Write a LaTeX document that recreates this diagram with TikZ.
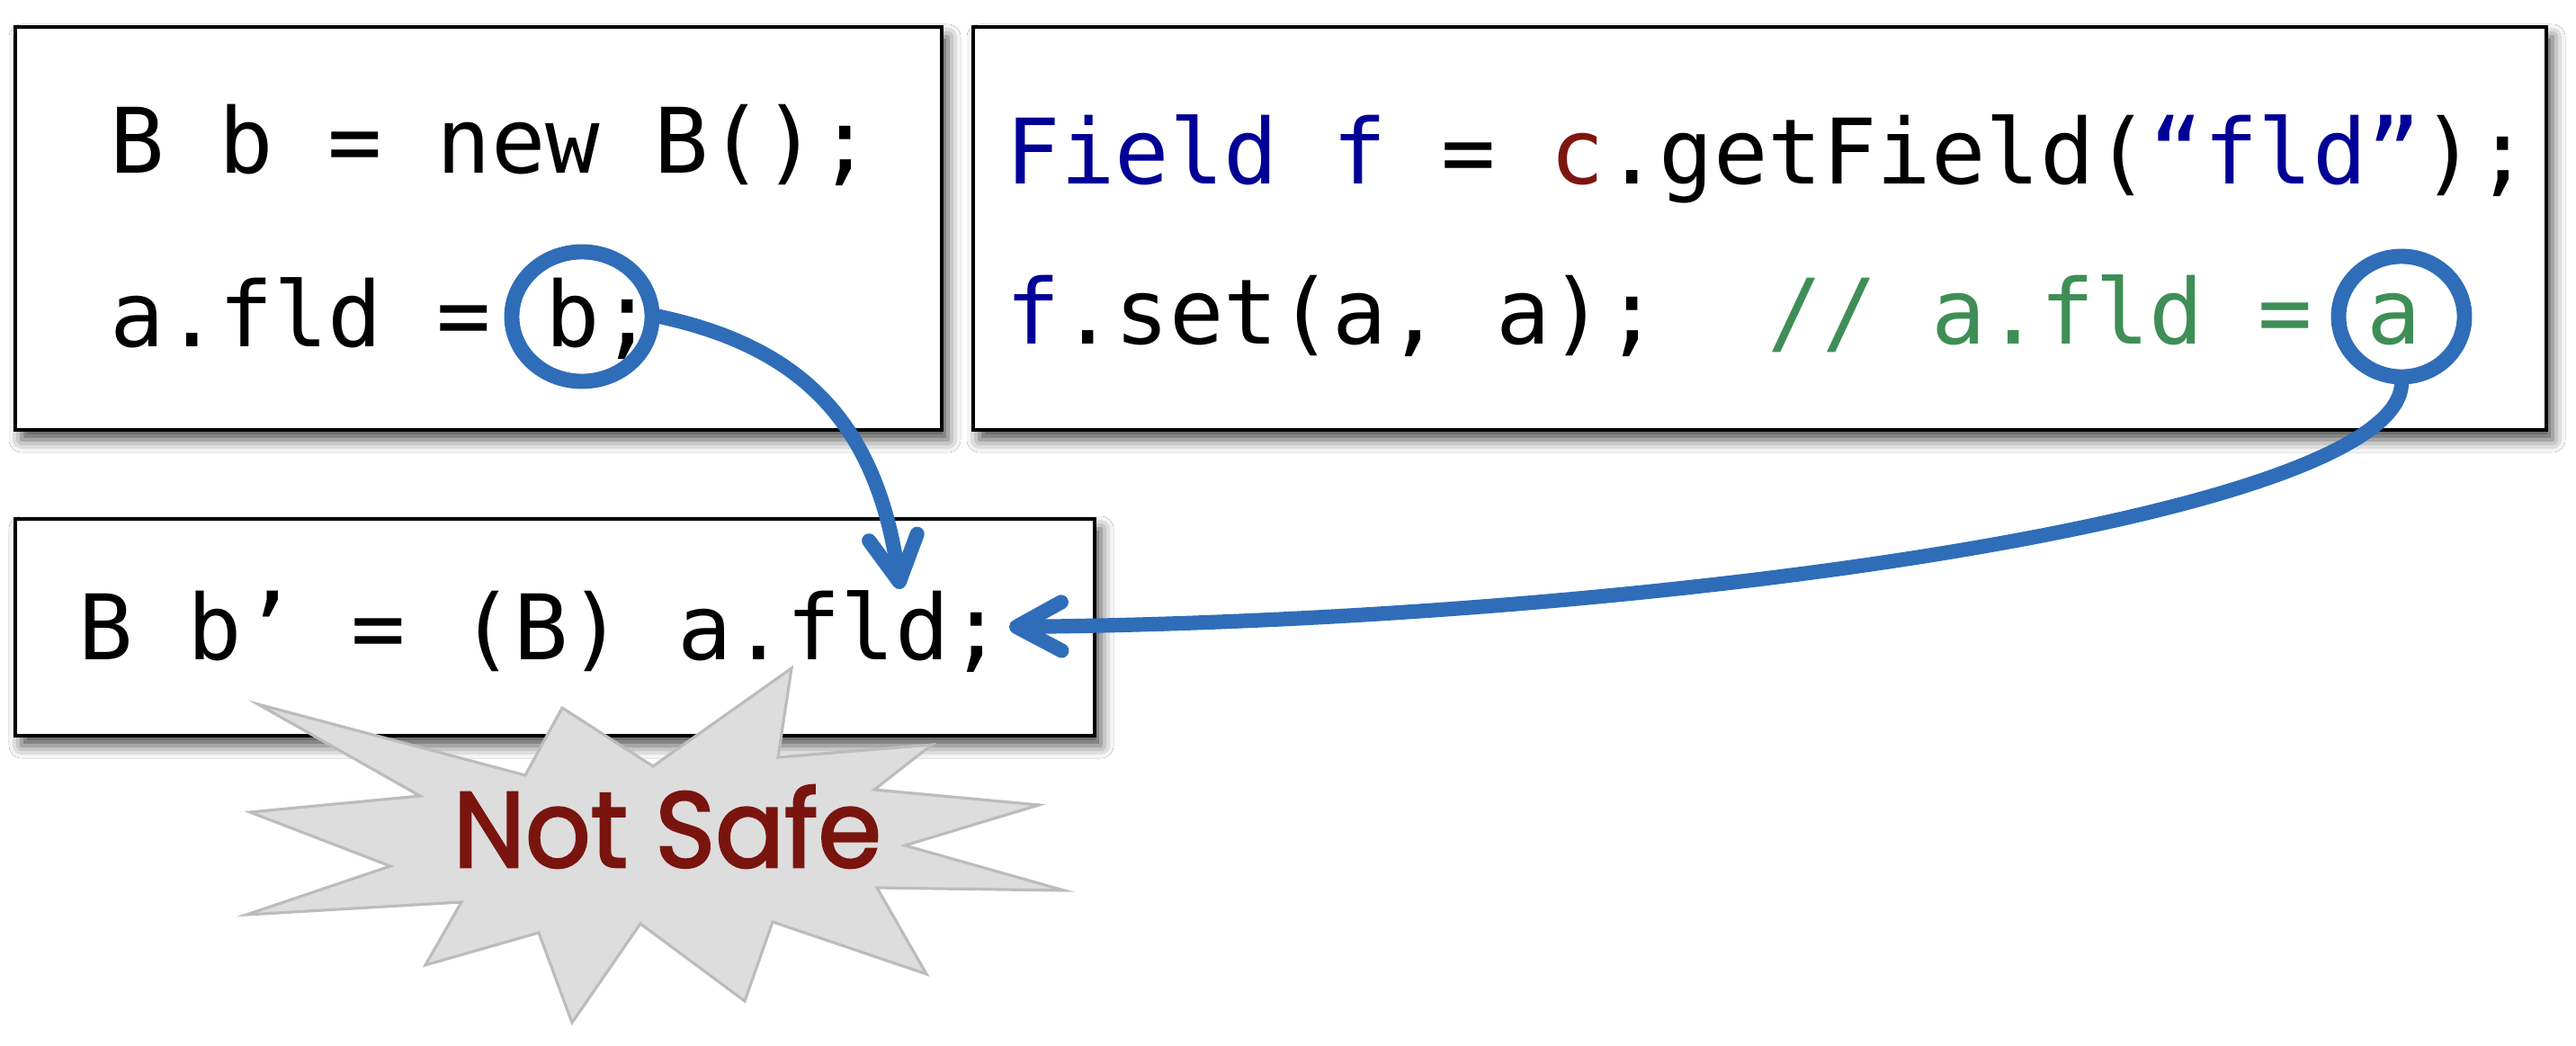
\documentclass[tikz,border=0pt]{standalone}
\usepackage{fontspec}
\newfontfamily\codefont{DejaVu Sans Mono}
\newfontfamily\safefont{Poppins}[FakeBold=2.2]
\usetikzlibrary{arrows.meta,shapes.geometric,shadows.blur}
\definecolor{kwblue}{RGB}{0,0,150}
\definecolor{litred}{RGB}{125,22,16}
\definecolor{cmtgreen}{RGB}{62,142,86}
\definecolor{markblue}{RGB}{47,109,185}
\definecolor{burstfill}{RGB}{221,221,221}
\definecolor{burstline}{RGB}{188,188,188}
\definecolor{safered}{RGB}{122,20,14}
\begin{document}
\begin{tikzpicture}[
  codebox/.style={draw=black, line width=0.9pt, fill=white, rectangle, inner sep=0pt,
    blur shadow={shadow xshift=0.07cm, shadow yshift=-0.11cm, shadow blur radius=0.14cm, shadow opacity=70}},
  code/.style={anchor=base west, inner sep=0pt, font=\codefont\fontsize{28.6pt}{34pt}\selectfont\frenchspacing},
  ring/.style={draw=markblue, line width=4.8pt, ellipse, inner sep=0pt},
  flow/.style={draw=markblue, line width=4.6pt, line cap=round,
    -{Straight Barb[length=5mm, width=5.4mm, round]}},
  burst/.style={fill=burstfill, draw=burstline, line width=0.9pt, line join=miter},
  safe/.style={anchor=base, inner sep=0pt, text=safered},
]
\useasboundingbox (0,0) rectangle (28.64,11.62);
\fill[white] (0,0) rectangle (28.64,11.62);

% code boxes
\node[codebox, minimum width=10.30cm, minimum height=4.48cm] (box1) at (5.32,9.08) {};
\node[codebox, minimum width=17.49cm, minimum height=4.48cm] (box2) at (19.565,9.08) {};
\node[codebox, minimum width=12.00cm, minimum height=2.41cm] (box3) at (6.17,4.645) {};

% code text
\node[code] (l1a) at (1.22,9.70) {B b = new B();};
\node[code] (l1b) at (1.22,7.77) {a.fld = b;};
\node[code] (l2a) at (11.18,9.58) {\textcolor{kwblue}{Field f} = \textcolor{litred}{c}.getField(\textcolor{kwblue}{“fld”});};
\node[code] (l2b) at (11.18,7.80) {\textcolor{kwblue}{f}.set(a, a);~~\textcolor{cmtgreen}{// a.fld = a}};
\node[code] (l3) at (0.87,4.29) {B b’ = (B) a.fld;};

% highlight rings
\node[ring, minimum width=1.56cm, minimum height=1.44cm] (circb) at (6.47,8.10) {};
\node[ring, minimum width=1.40cm, minimum height=1.34cm] (circa) at (26.70,8.10) {};

% flow arrows
\coordinate (tip1) at (10.01,5.07);
\coordinate (tip2) at (11.22,4.65);
\draw[flow] (circb.east) .. controls (8.91,7.76) and (9.75,6.92) .. (tip1);
\draw[flow] (circa.south) .. controls (26.62,5.90) and (18.50,4.72) .. (tip2);

% starburst
\draw[burst] (2.87,3.79) -- (5.84,3.00) -- (6.25,3.75) -- (7.26,3.10) -- (8.80,4.19)
  -- (8.65,3.20) -- (10.36,3.34) -- (9.72,2.84) -- (11.55,2.67) -- (10.06,2.22)
  -- (11.83,1.72) -- (9.75,1.75) -- (10.30,0.79) -- (8.59,1.37) -- (8.28,0.49)
  -- (7.12,1.35) -- (6.36,0.25) -- (5.99,1.25) -- (4.73,0.89) -- (5.13,1.59)
  -- (2.74,1.45) -- (4.34,1.99) -- (2.78,2.59) -- (4.67,2.77) -- cycle;
\node[safe] (notsafe) at (7.42,1.98) {\resizebox{4.76cm}{0.91cm}{\safefont Not Safe}};
\end{tikzpicture}
\end{document}
